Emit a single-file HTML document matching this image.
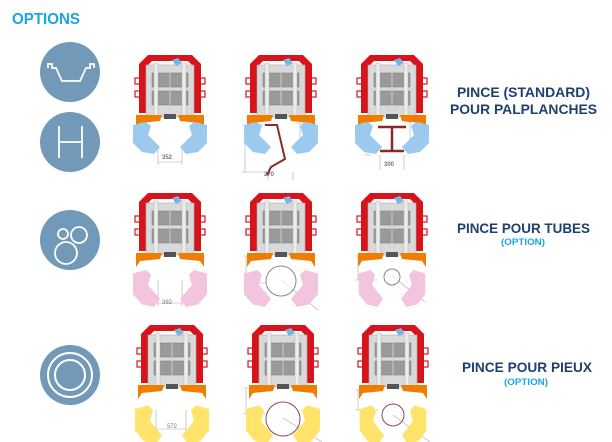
<!DOCTYPE html>
<html><head><meta charset="utf-8"><style>
html,body{margin:0;padding:0;background:#fff;}
svg{display:block}
text{font-family:"Liberation Sans",sans-serif;font-weight:bold}
</style></head><body>
<svg width="612" height="442" viewBox="0 0 612 442" xmlns="http://www.w3.org/2000/svg">
<defs>
<g id="frame">
  <path d="M-22,0 L22,0 L31,9 L31,58 L24,58 L24,12 L18,6 L-18,6 L-24,12 L-24,58 L-31,58 L-31,9 Z" fill="#d7141c"/>
  <rect x="-35" y="23" width="5" height="6" fill="none" stroke="#d7141c" stroke-width="1.2"/>
  <rect x="-35" y="36" width="5" height="6" fill="none" stroke="#d7141c" stroke-width="1.2"/>
  <rect x="30" y="23" width="5" height="6" fill="none" stroke="#d7141c" stroke-width="1.2"/>
  <rect x="30" y="36" width="5" height="6" fill="none" stroke="#d7141c" stroke-width="1.2"/>
  <rect x="-24" y="10" width="48" height="52" fill="#d9d9d9" stroke="#aaa" stroke-width="0.6"/>
  <rect x="-18" y="18" width="36" height="14" fill="#9a9a9a" stroke="#777" stroke-width="0.5"/>
  <rect x="-18" y="36" width="36" height="14" fill="#9a9a9a" stroke="#777" stroke-width="0.5"/>
  <line x1="0" y1="18" x2="0" y2="50" stroke="#ccc" stroke-width="1"/>
  <rect x="-16" y="8" width="4" height="56" fill="#ececec" stroke="#aaa" stroke-width="0.4"/>
  <rect x="12" y="8" width="4" height="56" fill="#ececec" stroke="#aaa" stroke-width="0.4"/>
  <path d="M2,5 L8,3 L12,8 L6,11 Z" fill="#7ab3e0"/>
  <rect x="-6" y="59" width="12" height="5" fill="#555"/>
  <path d="M-34,60 L-8,60 L-10,66 L-30,68 L-34,74 Z" fill="#ef7d00"/>
  <path d="M34,60 L8,60 L10,66 L30,68 L34,74 Z" fill="#ef7d00"/>
</g>
<g id="jawL">
  <path d="M-37,70 L-24,67 L-19,71 L-22,80 L-16,86 L-10,92 L-16,99 L-28,97 L-37,88 Z"/>
</g>
</defs>

<text x="12" y="24" font-size="16" fill="#1aa6e4" textLength="68" lengthAdjust="spacingAndGlyphs">OPTIONS</text>

<circle cx="70" cy="72" r="30" fill="#7299b8"/>
<path d="M48,68 L48,64 L52,64 L52,68 L56,68 L62,81 L80,81 L86,68 L90,68 L90,64 L94,64 L94,68" fill="none" stroke="#fff" stroke-width="1.8"/>
<circle cx="70" cy="142" r="30" fill="#7299b8"/>
<path d="M59,126 V158 M82,126 V158 M59,142 H82" stroke="#fff" stroke-width="1.8"/>
<circle cx="70" cy="240" r="30" fill="#7299b8"/>
<circle cx="66" cy="253" r="11" fill="none" stroke="#fff" stroke-width="1.8"/>
<circle cx="79" cy="235" r="8" fill="none" stroke="#fff" stroke-width="1.8"/>
<circle cx="63" cy="234" r="5" fill="none" stroke="#fff" stroke-width="1.8"/>
<circle cx="70" cy="375" r="30" fill="#7299b8"/>
<circle cx="70" cy="375" r="22" fill="none" stroke="#fff" stroke-width="2"/>
<circle cx="70" cy="375" r="15" fill="none" stroke="#fff" stroke-width="2"/>

<g stroke="#aaa" stroke-width="0.6" fill="none">
<path d="M158,145 V165 M182,145 V165 M158,162 H182"/>
<path d="M242,125 H268 M242,172 H268 M245,125 V172 M268,172 V180 M293,172 V180"/>
<path d="M296,123 H305 M296,152 H305 M300,123 V152"/>
<path d="M364,128 H372 M364,155 H372 M368,128 V155 M380,155 V170 M404,155 V170"/>
<path d="M404,122 H413 M404,150 H413 M410,122 V150"/>
<path d="M158,280 V306 M182,280 V306 M158,303 H182"/>
<path d="M243,256 H266 M243,283 H266 M246,256 V283 M281,280 L318,310"/>
<path d="M355,256 H378 M355,280 H378 M358,256 V280 M392,276 L425,302"/>
<path d="M156,410 V432 M186,410 V432 M156,429 H186"/>
<path d="M243,388 H266 M243,414 H266 M246,388 V414 M283,418 L322,442"/>
<path d="M355,390 H378 M355,410 H378 M358,390 V410 M393,415 L430,442"/>
</g>

<g transform="translate(170,55)"><use href="#frame"/>
 <g fill="#9cc9ee"><use href="#jawL"/><use href="#jawL" transform="scale(-1,1)"/></g></g>
<g transform="translate(281,55)"><use href="#frame"/>
 <g fill="#9cc9ee"><use href="#jawL"/><use href="#jawL" transform="scale(-1,1)"/></g>
 <path d="M-16,70 L-4,70 L4,104 L-10,112 L-14,120" fill="none" stroke="#8b2a2a" stroke-width="2"/></g>
<g transform="translate(392,55)"><use href="#frame"/>
 <g fill="#9cc9ee"><use href="#jawL"/><use href="#jawL" transform="scale(-1,1)"/></g>
 <path d="M-14,72 H14 M0,72 V96 M-12,96 H12" stroke="#8b2a2a" stroke-width="2.5"/></g>
<g font-size="6" fill="#777" style="font-weight:normal">
<text x="162" y="159">352</text><text x="264" y="176">270</text><text x="384" y="166">300</text>
</g>

<g transform="translate(170,193)"><use href="#frame"/>
 <g fill="#f2c4de"><use href="#jawL" transform="scale(1,1.15)"/><use href="#jawL" transform="scale(-1,1.15)"/></g></g>
<g transform="translate(281,193)"><use href="#frame"/>
 <g fill="#f2c4de"><use href="#jawL" transform="scale(1,1.15)"/><use href="#jawL" transform="scale(-1,1.15)"/></g>
 <circle cx="0" cy="88" r="15" fill="#fff" fill-opacity="0.6" stroke="#888"/></g>
<g transform="translate(392,193)"><use href="#frame"/>
 <g fill="#f2c4de"><use href="#jawL" transform="scale(0.9,1.15)"/><use href="#jawL" transform="scale(-0.9,1.15)"/></g>
 <circle cx="0" cy="84" r="8" fill="#fff" fill-opacity="0.6" stroke="#888"/></g>
<text x="162" y="304" font-size="6" fill="#777" style="font-weight:normal">392</text>

<g transform="translate(172,325)"><use href="#frame"/>
 <g fill="#ffe36a"><use href="#jawL" transform="scale(1,1.2)"/><use href="#jawL" transform="scale(-1,1.2)"/></g></g>
<g transform="translate(283,325)"><use href="#frame"/>
 <g fill="#ffe36a"><use href="#jawL" transform="scale(1,1.2)"/><use href="#jawL" transform="scale(-1,1.2)"/></g>
 <circle cx="0" cy="94" r="17" fill="none" stroke="#8b4a4a" stroke-width="1"/></g>
<g transform="translate(393,325)"><use href="#frame"/>
 <g fill="#ffe36a"><use href="#jawL" transform="scale(0.9,1.2)"/><use href="#jawL" transform="scale(-0.9,1.2)"/></g>
 <circle cx="0" cy="90" r="11" fill="none" stroke="#8b4a4a" stroke-width="1"/></g>
<text x="167" y="428" font-size="6" fill="#777" style="font-weight:normal">572</text>

<g fill="#1f3f6e">
<text x="457" y="97" font-size="14" textLength="133" lengthAdjust="spacingAndGlyphs">PINCE (STANDARD)</text>
<text x="450" y="114" font-size="14" textLength="147" lengthAdjust="spacingAndGlyphs">POUR PALPLANCHES</text>
<text x="457" y="233" font-size="14" textLength="133" lengthAdjust="spacingAndGlyphs">PINCE POUR TUBES</text>
<text x="462" y="372" font-size="14" textLength="130" lengthAdjust="spacingAndGlyphs">PINCE POUR PIEUX</text>
</g>
<g fill="#1aa6e4">
<text x="501" y="245" font-size="9" textLength="44" lengthAdjust="spacingAndGlyphs">(OPTION)</text>
<text x="504" y="385" font-size="9" textLength="44" lengthAdjust="spacingAndGlyphs">(OPTION)</text>
</g>
</svg>
</body></html>
